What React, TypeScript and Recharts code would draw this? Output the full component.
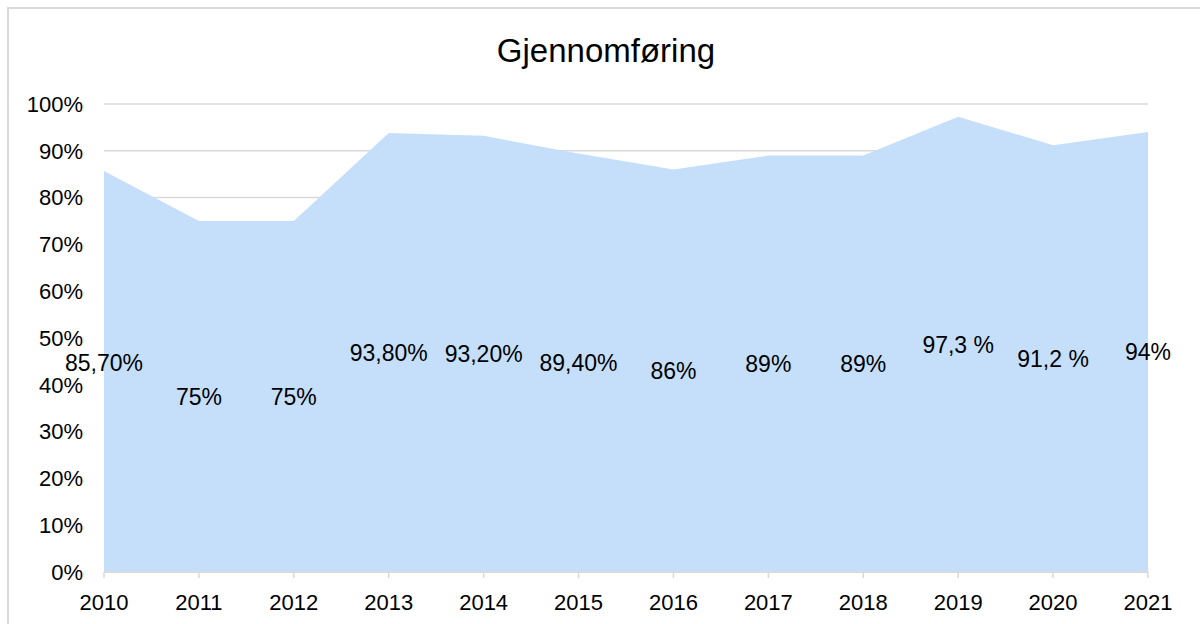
import React from "react";
import { AreaChart, Area, XAxis, YAxis, CartesianGrid, LabelList } from "recharts";

const years = ["2010", "2011", "2012", "2013", "2014", "2015", "2016", "2017", "2018", "2019", "2020", "2021"];
const values = [85.7, 75, 75, 93.8, 93.2, 89.4, 86, 89, 89, 97.3, 91.2, 94];
const labels = ["85,70%", "75%", "75%", "93,80%", "93,20%", "89,40%", "86%", "89%", "89%", "97,3 %", "91,2 %", "94%"];
const labelPos = [44.7, 37.5, 37.5, 46.9, 46.6, 44.7, 43, 44.5, 44.5, 48.65, 45.6, 47];
const yTicks = [0, 10, 20, 30, 40, 50, 60, 70, 80, 90, 100];

const data = years.map((y, i) => ({ year: y, value: values[i], label: labels[i], labelPos: labelPos[i] }));

const FONT = "'Liberation Sans', Arial, sans-serif";

const renderLabel = (props: any) => {
  const { x, y, value } = props;
  return (
    <text x={x} y={y} dy="0.36em" textAnchor="middle" fontFamily={FONT} fontSize={23} fill="#000">
      {value}
    </text>
  );
};

export default function App() {
  return (
    <div>
      <div
        style={{
          position: "absolute",
          left: 7,
          top: 7,
          width: 1210,
          height: 640,
          border: "2px solid #d9d9d9",
          boxSizing: "border-box",
        }}
      />
      <svg style={{ position: "absolute", left: 0, top: 0 }} width={1200} height={100}>
        <text x={606} y={62} textAnchor="middle" fontFamily={FONT} fontSize={33} fill="#000">
          Gjennomføring
        </text>
      </svg>
      <div style={{ position: "absolute", left: 0, top: 0 }}>
        <AreaChart width={1200} height={624} data={data} margin={{ top: 104, right: 52, bottom: 0, left: 0 }}>
          <CartesianGrid vertical={false} stroke="#d9d9d9" strokeWidth={1.5} />
          <XAxis
            dataKey="year"
            height={52}
            tickSize={6}
            tickMargin={16}
            axisLine={{ stroke: "#d9d9d9", strokeWidth: 1.5 }}
            tickLine={{ stroke: "#d9d9d9", strokeWidth: 1.5 }}
            tick={{ fill: "#000", fontSize: 22, fontFamily: FONT }}
            interval={0}
          />
          <YAxis
            width={104}
            domain={[0, 100]}
            ticks={yTicks}
            tickFormatter={(v: number) => `${v}%`}
            axisLine={false}
            tickLine={false}
            tickSize={0}
            tickMargin={21}
            tick={{ fill: "#000", fontSize: 22, fontFamily: FONT }}
            interval={0}
          />
          <Area type="linear" dataKey="value" stroke="none" fill="#c5dffb" fillOpacity={1} isAnimationActive={false} />
          <Area type="linear" dataKey="labelPos" stroke="none" fill="none" isAnimationActive={false}>
            <LabelList dataKey="label" content={renderLabel} />
          </Area>
        </AreaChart>
      </div>
    </div>
  );
}
